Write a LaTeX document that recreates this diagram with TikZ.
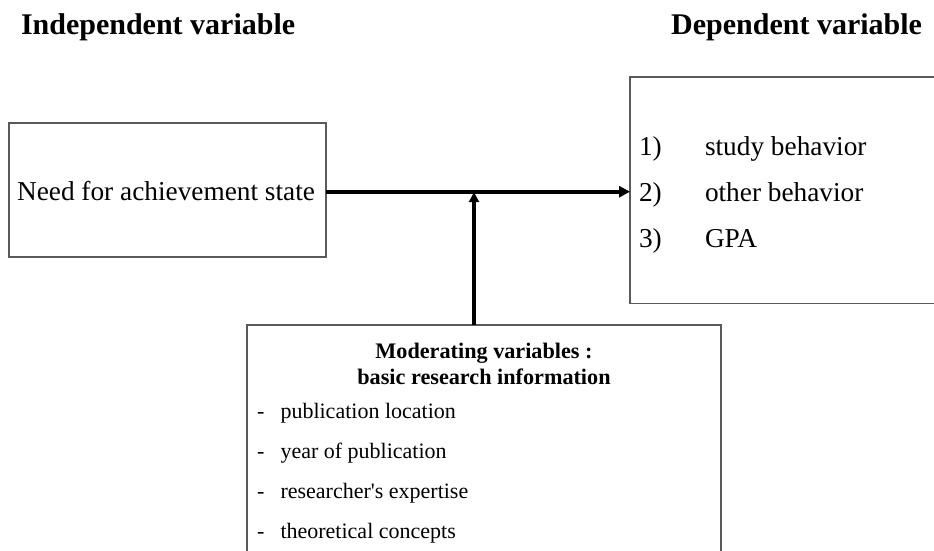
\documentclass[tikz,border=0pt]{standalone}
\usepackage{fontspec}
\setmainfont{Liberation Serif}
\usetikzlibrary{arrows.meta}
\definecolor{framegray}{HTML}{5A5A5A}
\tikzset{
  box/.style={draw=framegray, line width=1.4pt, inner sep=0pt, outer sep=0pt, anchor=north west},
  txt/.style={inner sep=0pt, outer sep=0pt, anchor=base west},
  heading/.style={txt, font=\fontsize{30}{36}\selectfont\bfseries},
  boxtext/.style={txt, font=\fontsize{27.3}{32}\selectfont},
  listtext/.style={txt, font=\fontsize{22}{26}\selectfont},
  modhead/.style={txt, anchor=base, font=\fontsize{22.2}{26}\selectfont\bfseries},
  flow/.style={line width=3.6pt, -{Triangle[length=11pt,width=11pt]}},
  modflow/.style={line width=3.2pt, -{Triangle[length=10pt,width=10pt]}}
}
\begin{document}
\begin{tikzpicture}[x=1pt,y=-1pt]
\useasboundingbox (0,0) rectangle (934,551);
\clip (0,0) rectangle (934,551);
\fill[white] (0,0) rectangle (934,551);

% column headings
\node[heading] (hiv) at (21,35) {Independent variable};
\node[heading, anchor=base east] (hdv) at (922,35) {Dependent variable};

% independent variable box
\node[box, minimum width=317pt, minimum height=134pt] (iv) at (9,123) {};
\node[boxtext, anchor=base] (ivtext) at (166,200.5) {Need for achievement state};

% dependent variable box (runs off the right edge)
\node[box, minimum width=330pt, minimum height=226.5pt] (dv) at (630,77) {};
\node[boxtext] (n1) at (639,155.5) {1)};
\node[boxtext] (d1) at (705,155.5) {study behavior};
\node[boxtext] (n2) at (639,201.5) {2)};
\node[boxtext] (d2) at (705,201.5) {other behavior};
\node[boxtext] (n3) at (639,247.5) {3)};
\node[boxtext] (d3) at (705,247.5) {GPA};

% moderating variables box (runs off the bottom edge)
\node[box, minimum width=474pt, minimum height=260pt] (mod) at (247,325) {};
\node[modhead] (m1) at (484,358) {Moderating variables :};
\node[modhead] (m2) at (484,384) {basic research information};
\foreach \y/\t [count=\i] in {418/publication location, 458/year of publication,
                              498/researcher\textquotesingle s expertise, 538/theoretical concepts} {
  \node[listtext] (dash\i) at (257,\y) {-};
  \node[listtext] (item\i) at (280.5,\y) {\t};
}

% connectors
\draw[flow] (iv.east |- 0,191.7) -- (dv.west |- 0,191.7);
\coordinate (join) at (474,192.2);
\draw[modflow] (mod.north -| join) -- (join);
\end{tikzpicture}
\end{document}
